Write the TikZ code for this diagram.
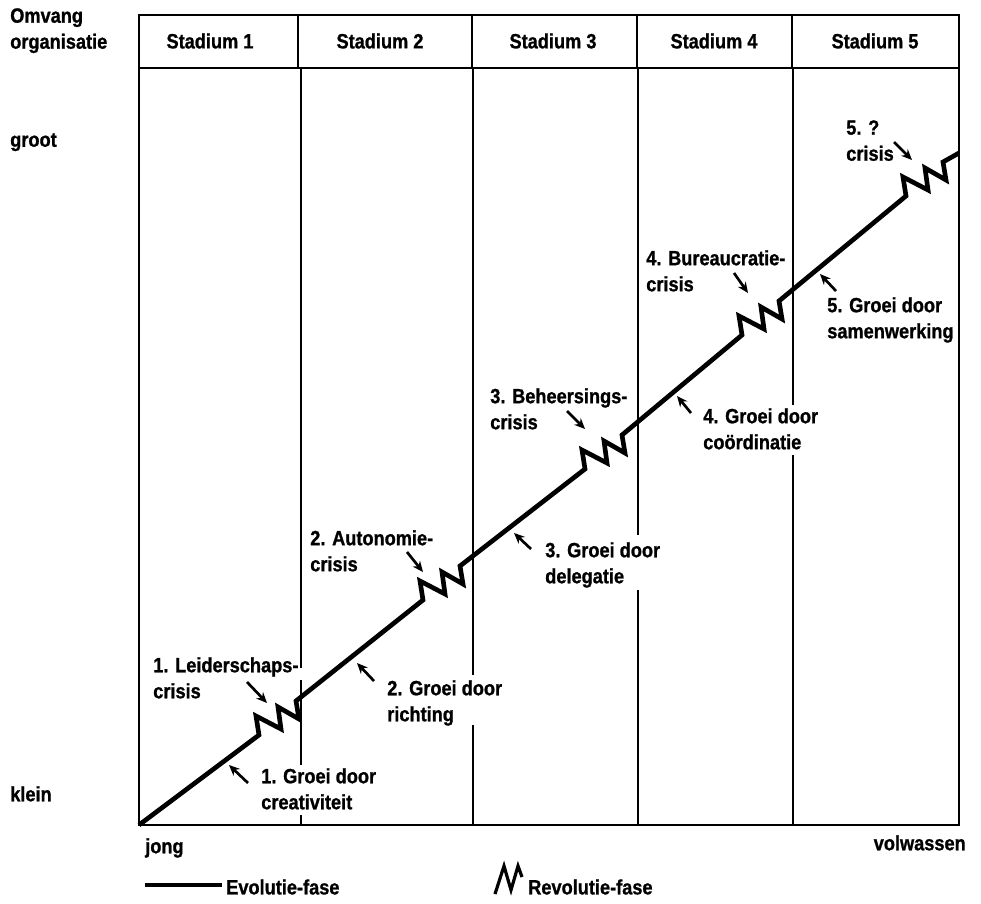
\documentclass[tikz,border=0pt]{standalone}
\usepackage{fontspec}
\setmainfont{Liberation Sans}[FakeStretch=0.88,FakeBold=1]
\usetikzlibrary{arrows.meta}
\begin{document}
\begin{tikzpicture}[x=0.75pt,y=-0.75pt,
  lbl/.style={font=\bfseries\fontsize{15.5}{19.5}\selectfont, inner sep=0pt, anchor=north west, align=left},
  frame/.style={line width=2.1pt},
  divider/.style={line width=1.8pt},
  growth/.style={line width=3.5pt, line join=miter},
  pointer/.style={line width=2pt, -{Stealth[length=8pt,width=7pt]}},
  saw/.style={insert path={-- ++(-3,-19) -- ++(25,13) -- ++(-3,-22) -- ++(21,12) -- ++(-3,-18)}},
]
\useasboundingbox (0,0) rectangle (981,903);

% frame and header row
\draw[frame] (139,15) rectangle (959,825);
\draw[frame] (139,68) -- (959,68);
\foreach \x in {298,472,637,792} \draw[divider] (\x,15) -- (\x,68);

% stage dividers, broken where labels sit
\draw[divider] (301,68) -- (301,668) (301,680) -- (301,765) (301,815) -- (301,825);
\draw[divider] (473,68) -- (473,675) (473,725) -- (473,825);
\draw[divider] (638,68) -- (638,535) (638,590) -- (638,825);
\draw[divider] (793,68) -- (793,405) (793,455) -- (793,825);

% header titles
\node[lbl, anchor=center] (s1) at (210,41) {Stadium 1};
\node[lbl, anchor=center] (s2) at (380,41) {Stadium 2};
\node[lbl, anchor=center] (s3) at (553,41) {Stadium 3};
\node[lbl, anchor=center] (s4) at (714,41) {Stadium 4};
\node[lbl, anchor=center] (s5) at (875,41) {Stadium 5};

% axis labels
\node[lbl] (yax) at (10,8) {Omvang\\organisatie};
\node[lbl] (big) at (10,133) {groot};
\node[lbl] (small) at (10,786) {klein};
\node[lbl] (young) at (145,838) {jong};
\node[lbl, anchor=north east] (old) at (966,835) {volwassen};

% growth curve: evolution lines broken by revolution zigzags
\coordinate (o) at (139,825);
\coordinate (r1) at (259,735);
\coordinate (r2) at (423,600);
\coordinate (r3) at (585,469);
\coordinate (r4) at (742,335);
\coordinate (r5) at (906,196);
\coordinate (e) at (959,153);
\draw[growth] (o) -- (r1) [saw] -- (r2) [saw] -- (r3) [saw] -- (r4) [saw] -- (r5) [saw] -- (e);

% crisis labels and pointers
\node[lbl] (c1) at (153,657) {1. Leiderschaps-\\crisis};
\node[lbl] (c2) at (310,530) {2. Autonomie-\\crisis};
\node[lbl] (c3) at (490,388) {3. Beheersings-\\crisis};
\node[lbl] (c4) at (646,250) {4. Bureaucratie-\\crisis};
\node[lbl] (c5) at (846,120) {5. ?\\crisis};
\coordinate (c1a) at (247,682); \coordinate (c1b) at (267,703);
\coordinate (c2a) at (407,552); \coordinate (c2b) at (423,572);
\coordinate (c3a) at (567,411); \coordinate (c3b) at (585,429);
\coordinate (c4a) at (734,273); \coordinate (c4b) at (748,293);
\coordinate (c5a) at (894,142); \coordinate (c5b) at (912,160);
\foreach \i in {1,...,5} \draw[pointer] (c\i a) -- (c\i b);

% growth labels and pointers
\node[lbl] (g1) at (261,768) {1. Groei door\\creativiteit};
\node[lbl] (g2) at (387,680) {2. Groei door\\richting};
\node[lbl] (g3) at (545,542) {3. Groei door\\delegatie};
\node[lbl] (g4) at (703,408) {4. Groei door\\coördinatie};
\node[lbl] (g5) at (827,297) {5. Groei door\\samenwerking};
\coordinate (g1a) at (248,783); \coordinate (g1b) at (229,765);
\coordinate (g2a) at (374,681); \coordinate (g2b) at (357,663);
\coordinate (g3a) at (531,549); \coordinate (g3b) at (514,533);
\coordinate (g4a) at (691,413); \coordinate (g4b) at (677,396);
\coordinate (g5a) at (836,291); \coordinate (g5b) at (820,274);
\foreach \i in {1,...,5} \draw[pointer] (g\i a) -- (g\i b);

% legend
\coordinate (l1) at (145,885);
\coordinate (l2) at (222,885);
\draw[growth] (l1) -- (l2);
\node[lbl, anchor=west] (evo) at (226,887) {Evolutie-fase};
\draw[line width=2.4pt, line join=miter] (495,894) -- (504,866) -- (511,890) -- (518,866) -- (522,877);
\node[lbl, anchor=west] (rev) at (528,887) {Revolutie-fase};
\end{tikzpicture}
\end{document}
